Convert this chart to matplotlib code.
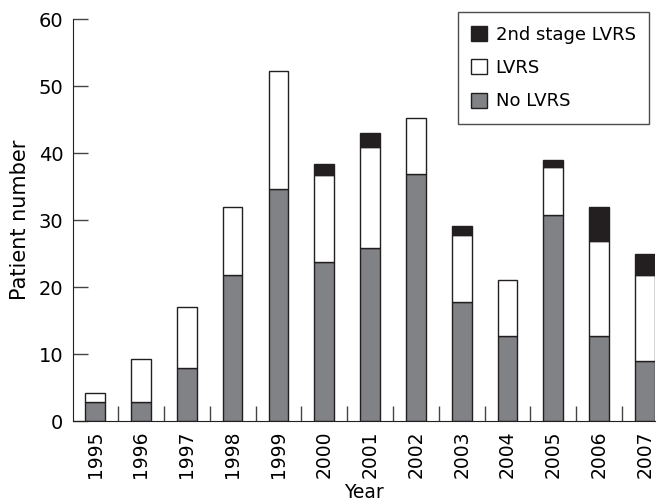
import numpy as np
import matplotlib
matplotlib.use("Agg")
import matplotlib.pyplot as plt

# valores
years = ["1995", "1996", "1997", "1998", "1999", "2000", "2001",
         "2002", "2003", "2004", "2005", "2006", "2007"]
no_lvrs = [2.8, 2.8, 7.9, 21.8, 34.7, 23.7, 25.9, 36.9, 17.8, 12.7, 30.7, 12.7, 9.0]
lvrs = [1.4, 6.4, 9.1, 10.2, 17.5, 13.1, 15.0, 8.3, 9.9, 8.3, 7.2, 14.2, 12.8]
second_stage = [0, 0, 0, 0, 0, 1.5, 2.1, 0, 1.4, 0, 1.1, 5.1, 3.2]

plt.rcParams['font.family'] = ['DejaVu Sans']

fig = plt.figure(figsize=(6.63, 5.03), dpi=100)
ax = fig.add_axes([0.110, 0.163, 0.878, 0.799])

x = np.arange(len(years))
w = 0.43
gris = "#808285"
negro = "#231f20"

b1 = ax.bar(x, no_lvrs, w, color=gris, edgecolor=negro, linewidth=1, label="No LVRS")
b2 = ax.bar(x, lvrs, w, bottom=no_lvrs, color="white", edgecolor=negro,
            linewidth=1, label="LVRS")
base2 = np.array(no_lvrs) + np.array(lvrs)
s = np.array(second_stage)
b3 = ax.bar(x[s > 0], s[s > 0], w, bottom=base2[s > 0], color=negro,
            edgecolor=negro, linewidth=1, label="2nd stage LVRS")

ax.set_xlim(-0.485, 12.22)
ax.set_ylim(0, 60)
ax.set_yticks(np.arange(0, 61, 10))
ax.set_xticks(x)
ax.set_xticklabels(years, rotation=90)
ax.set_xticks(x[:-1] + 0.5, minor=True)

ax.tick_params(axis='y', direction='in', length=11, width=1, labelsize=14,
               color="#444444", pad=7)
ax.tick_params(axis='x', which='major', length=0, labelsize=13.5, pad=7)
ax.tick_params(axis='x', which='minor', direction='in', length=11, width=1,
               color="#444444")

ax.spines['top'].set_visible(False)
ax.spines['right'].set_visible(False)
ax.spines['left'].set_color(negro)
ax.spines['bottom'].set_color(negro)

ax.set_xlabel("Year", fontsize=13.5, labelpad=3)
ax.set_ylabel("Patient number", fontsize=15, labelpad=6)

leg = ax.legend(handles=[b3, b2, b1], loc="upper right",
                bbox_to_anchor=(0.979, 0.976), bbox_transform=fig.transFigure,
                fontsize=13, frameon=True, fancybox=False, handlelength=0.9,
                handleheight=0.9, handletextpad=0.45, labelspacing=0.85,
                borderpad=0.75, borderaxespad=0)
leg.get_frame().set_edgecolor(negro)
leg.get_frame().set_linewidth(1)

fig.savefig("out.png", dpi=100)
